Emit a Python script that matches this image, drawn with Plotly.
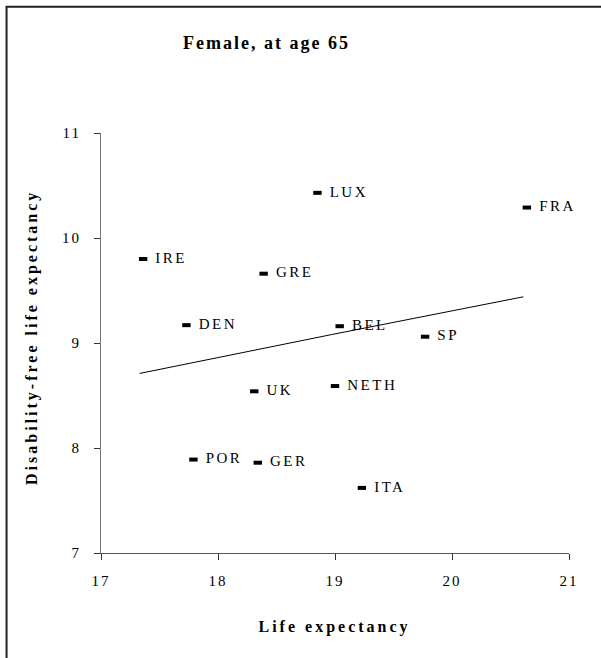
import plotly.graph_objects as go

countries = ["IRE", "GRE", "DEN", "LUX", "FRA", "BEL", "SP", "UK", "POR", "GER", "NETH", "ITA"]
life_exp = [17.36, 18.39, 17.73, 18.85, 20.64, 19.04, 19.77, 18.31, 17.79, 18.34, 19.00, 19.23]
dfle = [9.80, 9.66, 9.17, 10.43, 10.29, 9.16, 9.06, 8.54, 7.89, 7.86, 8.59, 7.62]

trend_x = [17.33, 18.97, 20.61]
trend_y = [8.71, 9.08, 9.44]

x_ticks = [17, 18, 19, 20, 21]
y_ticks = [7, 8, 9, 10, 11]

FONT = "Liberation Serif"

fig = go.Figure()
fig.add_trace(go.Scatter(
    x=trend_x, y=trend_y, mode="lines",
    line=dict(color="black", width=1),
    hoverinfo="skip", showlegend=False,
))
fig.add_trace(go.Scatter(
    x=life_exp, y=dfle, mode="markers",
    marker=dict(symbol="line-ew", size=6, line=dict(width=4, color="black")),
    showlegend=False, cliponaxis=False,
))
fig.add_trace(go.Scatter(
    x=life_exp, y=dfle, mode="markers+text",
    text=countries, textposition="middle right",
    textfont=dict(family=FONT, size=15, color="black"),
    marker=dict(size=18, opacity=0),
    hoverinfo="skip", showlegend=False, cliponaxis=False,
))

fig.update_layout(
    width=601, height=658,
    margin=dict(l=100.5, r=32.3, t=133.3, b=104.7),
    paper_bgcolor="white", plot_bgcolor="white",
    font=dict(family=FONT, size=15, color="black"),
    title=dict(text="<b>Female, at age 65</b>", x=0.4434, xanchor="center",
               y=0.9347, yanchor="middle",
               font=dict(family=FONT, size=18, color="black")),
    xaxis=dict(range=[17, 21], tickvals=x_ticks, showgrid=False, zeroline=False,
               showline=True, linecolor="#555", linewidth=1,
               ticks="outside", ticklen=6, tickcolor="#333",
               ticklabelstandoff=8,
               tickfont=dict(family=FONT, size=15, color="black")),
    yaxis=dict(range=[7, 11], tickvals=y_ticks, showgrid=False, zeroline=False,
               showline=True, linecolor="#777", linewidth=1,
               ticks="outside", ticklen=6, tickcolor="#333",
               ticklabelstandoff=10,
               tickfont=dict(family=FONT, size=15, color="black")),
    annotations=[
        dict(text="<b>Life expectancy</b>", xref="paper", yref="paper",
             x=0.4987, y=-0.1755, xanchor="center", yanchor="middle",
             showarrow=False, font=dict(family=FONT, size=16, color="black")),
        dict(text="<b>Disability-free life expectancy</b>", xref="paper", yref="paper",
             x=-0.148, y=0.5126, xanchor="center", yanchor="middle", textangle=-90,
             showarrow=False, font=dict(family=FONT, size=16, color="black")),
    ],
    shapes=[
        dict(type="rect", xref="paper", yref="paper",
             x0=-0.2018, x1=1.12, y0=-0.35, y1=1.3007,
             line=dict(color="#222", width=2), fillcolor="rgba(0,0,0,0)", layer="below"),
    ],
)

css = ("body{margin:0;padding:0}"
       ".gtitle{letter-spacing:2px}"
       ".textpoint text{letter-spacing:2.5px}"
       ".annotation-text{letter-spacing:3px}"
       ".xtick text,.ytick text{letter-spacing:2px}")
post = ("var s=document.createElement('style');s.textContent='" + css +
        "';document.head.appendChild(s);")

fig.write_html("out.html", post_script=post, config={"displayModeBar": False})
